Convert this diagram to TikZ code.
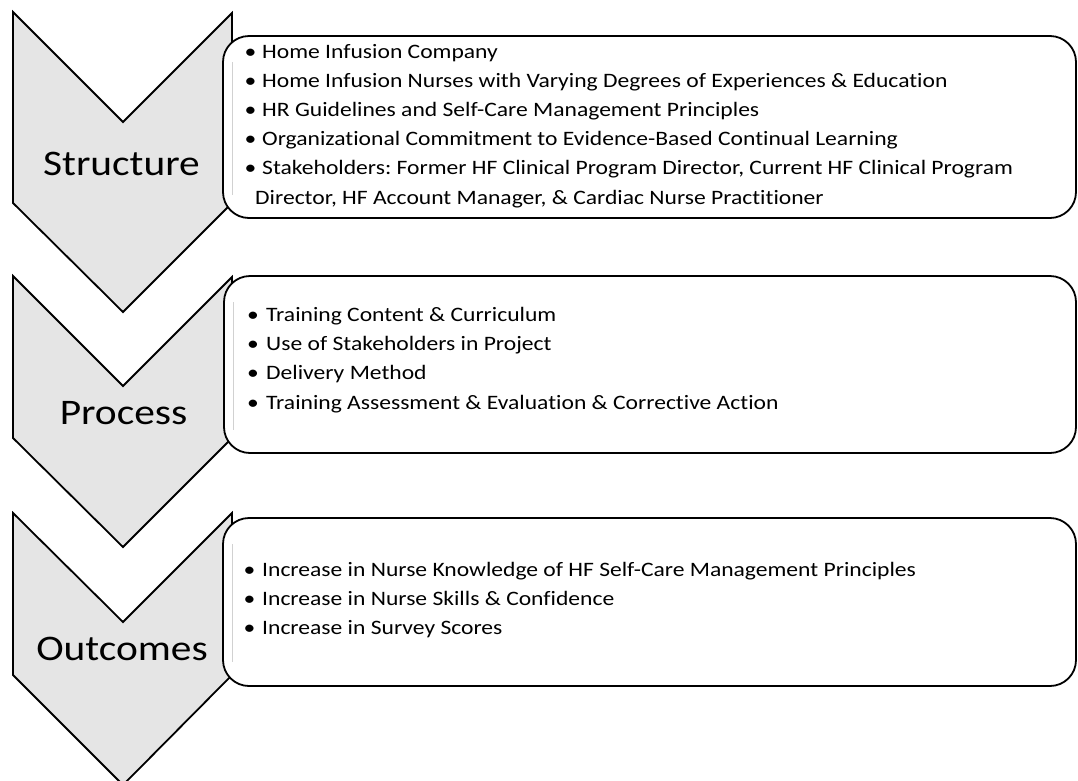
\documentclass[tikz,border=0pt]{standalone}
\usepackage{fontspec}
\setmainfont{Carlito}[FakeStretch=1.15,Ligatures={NoCommon}]
\frenchspacing
\definecolor{chevfill}{RGB}{229,229,229}
\tikzset{
  chev/.style={draw=black, fill=chevfill, line width=1.8pt, line join=miter},
  itembox/.style={draw=black, fill=white, line width=1.8pt, rounded corners=26pt},
  chevlabel/.style={anchor=base, inner sep=0pt, font=\fontsize{36}{40}\selectfont},
  bul/.style={anchor=base, inner sep=0pt, font=\fontsize{20.5}{24}\selectfont},
  itemtext/.style={anchor=base west, inner sep=0pt, font=\fontsize{20.5}{24}\selectfont},
  ghost/.style={draw=black!18, line width=1pt}
}
\begin{document}
\begin{tikzpicture}[x=1pt,y=-1pt]
\useasboundingbox (0,0) rectangle (1078,780);
\fill[white] (0,0) rectangle (1078,780);

% chevrons
\draw[chev] (13,12) -- (123,122) -- (232,13) -- (232,203) -- (123,312) -- (13,203) -- cycle;
\draw[chev] (13,276) -- (123,386) -- (232,277) -- (232,438) -- (123,547) -- (13,438) -- cycle;
\draw[chev] (13,513) -- (123,622) -- (232,513) -- (232,675) -- (123,785) -- (13,675) -- cycle;

% boxes
\draw[itembox] (223,36) rectangle (1076,218);
\draw[itembox] (224,276) rectangle (1076,453);
\draw[itembox] (223,518) rectangle (1076,686);

% faint chevron edges seen through boxes
\draw[ghost] (232,62) -- (232,195);
\draw[ghost] (233,302) -- (233,430);
\draw[ghost] (232,544) -- (232,662);

% chevron labels
\node[chevlabel] (lstruct) at (121.5,175) {Structure};
\node[chevlabel] (lproc) at (123.5,424) {Process};
\node[chevlabel] (lout) at (122,660) {Outcomes};

% Structure items
\node[bul] (sb1) at (250.5,58) {•};
\node[itemtext] (s1) at (262,58) {Home Infusion Company};
\node[bul] (sb2) at (250.5,87.2) {•};
\node[itemtext] (s2) at (262,87.2) {Home Infusion Nurses with Varying Degrees of Experiences \& Education};
\node[bul] (sb3) at (250.5,116.4) {•};
\node[itemtext] (s3) at (262,116.4) {HR Guidelines and Self-Care Management Principles};
\node[bul] (sb4) at (250.5,145.6) {•};
\node[itemtext] (s4) at (262,145.6) {Organizational Commitment to Evidence-Based Continual Learning};
\node[bul] (sb5) at (250.5,174.8) {•};
\node[itemtext] (s5) at (262,174.8) {Stakeholders: Former HF Clinical Program Director, Current HF Clinical Program};
\node[itemtext] (s6) at (255,204) {Director, HF Account Manager, \& Cardiac Nurse Practitioner};

% Process items
\node[bul] (pb1) at (253,321.5) {•};
\node[itemtext] (p1) at (266,321.5) {Training Content \& Curriculum};
\node[bul] (pb2) at (253,350.7) {•};
\node[itemtext] (p2) at (266,350.7) {Use of Stakeholders in Project};
\node[bul] (pb3) at (253,379.9) {•};
\node[itemtext] (p3) at (266,379.9) {Delivery Method};
\node[bul] (pb4) at (253,409.1) {•};
\node[itemtext] (p4) at (266,409.1) {Training Assessment \& Evaluation \& Corrective Action};

% Outcomes items
\node[bul] (ob1) at (249.5,576) {•};
\node[itemtext] (o1) at (262,576) {Increase in Nurse Knowledge of HF Self-Care Management Principles};
\node[bul] (ob2) at (249.5,605.2) {•};
\node[itemtext] (o2) at (262,605.2) {Increase in Nurse Skills \& Confidence};
\node[bul] (ob3) at (249.5,634.4) {•};
\node[itemtext] (o3) at (262,634.4) {Increase in Survey Scores};
\end{tikzpicture}
\end{document}
